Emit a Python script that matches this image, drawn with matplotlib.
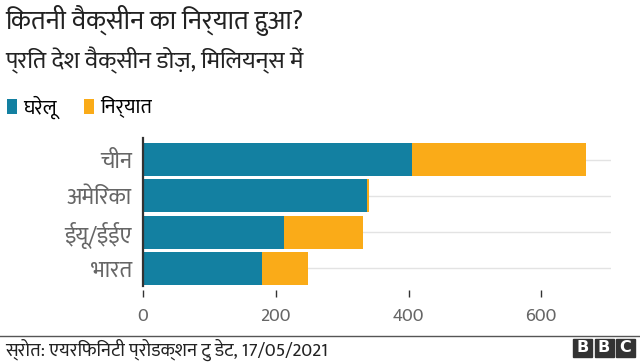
import os
import matplotlib
matplotlib.use('Agg')
import matplotlib.pyplot as plt
from matplotlib import font_manager as fm
from matplotlib.patches import Rectangle

countries = ['चीन', 'अमेरिका', 'ईयू/ईईए', 'भारत']
domestic = [405, 337, 213, 180]
exported = [263, 3, 118, 69]
xticks = [0, 200, 400, 600]
series = ['घरेलू', 'निर्यात']

title = 'कितनी वैक्सीन का निर्यात हुआ?'
subtitle = 'प्रति देश वैक्सीन डोज़, मिलियन्स में'
source = 'स्रोत: एयरफिनिटी प्रोडक्शन टु डेट, 17/05/2021'

TEAL = '#1380A1'
ORANGE = '#FAAB18'

# pick a Devanagari font from the system
prefs = ['Mukta-Regular.ttf', 'NotoSansDevanagari-Regular.ttf', 'Hind-Regular.ttf']
paths = {os.path.basename(p): p for p in fm.findSystemFonts()}
family = 'DejaVu Sans'
for name in prefs:
    if name in paths:
        fm.fontManager.addfont(paths[name])
        family = fm.FontProperties(fname=paths[name]).get_name()
        break
plt.rcParams['font.family'] = [family, 'DejaVu Sans']


def vis(s):
    # matplotlib does no shaping: put the i-matra before its consonant cluster
    res = []
    for ch in s:
        if ch == '\u093f' and res:
            j = len(res) - 1
            if res[j] == '\u093c' and j > 0:
                j -= 1
            while j >= 2 and res[j - 1] == '\u094d':
                j -= 2
            res.insert(j, ch)
        else:
            res.append(ch)
    return ''.join(res)


fig = plt.figure(figsize=(6.4, 3.63), dpi=100)
ax = fig.add_axes([143 / 640, 73 / 363, 468 / 640, 152 / 363])

y = list(range(len(countries)))
b1 = ax.barh(y, domestic, height=0.91, color=TEAL, label=vis(series[0]), zorder=2)
b2 = ax.barh(y, exported, left=domestic, height=0.91, color=ORANGE, label=vis(series[1]), zorder=2)

ax.set_ylim(3.6, -0.6)
ax.set_xlim(0, 705)
ax.set_yticks(y)
ax.set_yticklabels([vis(c) for c in countries])
ax.set_xticks(xticks)
ax.grid(axis='y', color='#e3e3e3', lw=1, zorder=0)
ax.set_axisbelow(True)

for s in ['top', 'right', 'bottom']:
    ax.spines[s].set_visible(False)
ax.spines['left'].set_color('#333333')
ax.spines['left'].set_linewidth(1.6)
ax.spines['left'].set_bounds(3.5, -0.6)

ax.tick_params(axis='y', length=0, pad=8, labelsize=16.5, labelcolor='#666666')
ax.tick_params(axis='x', length=5, width=1, color='#333333', pad=8,
               labelsize=13.5, labelcolor='#666666')

fig.text(5 / 640, 1 - 20 / 363, vis(title), fontsize=19, color='#222222', va='center')
fig.text(5 / 640, 1 - 61 / 363, vis(subtitle), fontsize=17.5, color='#222222', va='center')

fig.legend(handles=[b1, b2], loc='center left', bbox_to_anchor=(7 / 640, 1 - 107 / 363),
           ncol=2, frameon=False, fontsize=14.5, handlelength=0.5, handleheight=0.75,
           handletextpad=0.3, columnspacing=1.35, borderaxespad=0, borderpad=0)

fig.add_artist(plt.Line2D([0, 1], [1 - 336 / 363] * 2, color='#555555', lw=1,
                          transform=fig.transFigure))
fig.text(5 / 640, 1 - 350 / 363, vis(source), fontsize=13.5, color='#222222', va='center')

# BBC blocks
for i, letter in enumerate('BBC'):
    x0 = (573 + i * 21.5) / 640
    fig.add_artist(Rectangle((x0, 1 - 357 / 363), 19 / 640, 18 / 363, color='#333333',
                             transform=fig.transFigure))
    fig.text(x0 + 9.5 / 640, 1 - 348 / 363, letter, color='white', fontsize=11.5,
             fontweight='bold', family='DejaVu Sans', ha='center', va='center')

fig.savefig('out.png', dpi=100)
